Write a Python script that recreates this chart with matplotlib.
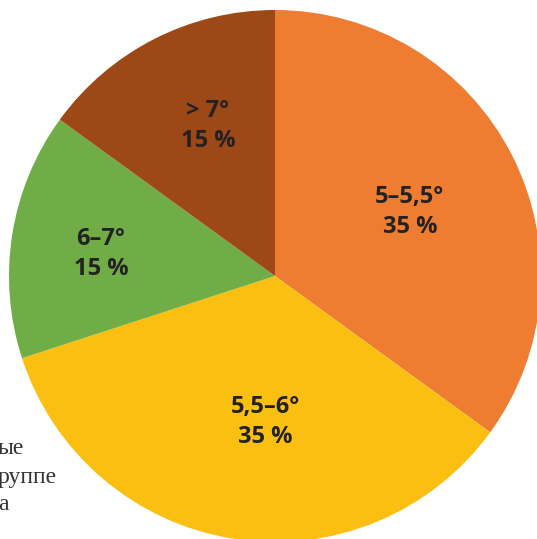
import matplotlib.pyplot as plt

# Доли по диапазонам угла
labels = ['5–5,5°', '5,5–6°', '6–7°', '> 7°']
shares = [35, 35, 15, 15]
colors = ['#EE7D32', '#FBBF12', '#70AD47', '#9C4917']

# положение подписей (в пикселях рисунка)
label_xy = [(410, 212), (265, 422), (101, 254), (208, 126)]

fig = plt.figure(figsize=(5.37, 5.39), dpi=100)
ax = fig.add_axes([0, 0, 1, 1])

# обрывки подписи за диаграммой
for txt, y in zip(['ые', 'руппе', 'а'], [449, 477, 504]):
    ax.text(-2, 539 - y, txt, family='Liberation Serif', fontsize=17,
            color='#333333', ha='left', va='center', zorder=0)

cx, cy, r = 275, 539 - 276, 266
ax.pie(shares, colors=colors, startangle=90, counterclock=False,
       center=(cx, cy), radius=r, frame=True,
       wedgeprops=dict(linewidth=0))
ax.set_xlim(0, 537)
ax.set_ylim(0, 539)
ax.set_aspect('equal')
ax.axis('off')

for lab, val, (x, y) in zip(labels, shares, label_xy):
    ax.text(x, 539 - y, f'{lab}\n{val} %', family='Open Sans', fontweight='bold',
            fontsize=17, color='#222222', ha='center', va='center',
            linespacing=1.3)

fig.savefig('out.png', dpi=100)
